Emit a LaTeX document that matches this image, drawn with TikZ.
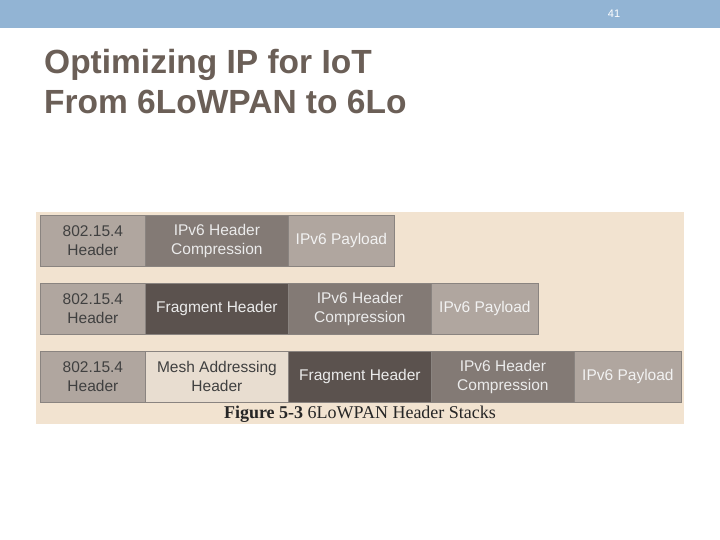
\documentclass[tikz,border=0pt]{standalone}
\usepackage{fontspec}
\setmainfont{Liberation Sans}
\newfontfamily\serifx{Liberation Serif}
\definecolor{topbar}{HTML}{92B4D4}
\definecolor{titlec}{HTML}{6B5F57}
\definecolor{bgc}{HTML}{F2E3D0}
\definecolor{lightb}{HTML}{B0A69F}
\definecolor{medb}{HTML}{837A75}
\definecolor{darkb}{HTML}{5B524E}
\definecolor{paleb}{HTML}{E8DDD0}
\definecolor{edge}{HTML}{8A8480}
\begin{document}
\begin{tikzpicture}[x=1pt,y=-1pt,
  cell/.style={draw=edge,line width=0.8pt,inner sep=0pt,align=center,font=\fontsize{15.5}{19}\selectfont},
  lt/.style={cell,fill=lightb,text=black!75},
  md/.style={cell,fill=medb,text=white!92!black},
  dk/.style={cell,fill=darkb,text=white!92!black},
  pl/.style={cell,fill=paleb,text=black!75},
  pay/.style={cell,fill=lightb,text=white!95!black}]
\useasboundingbox (0,0) rectangle (720,540);
\fill[white] (0,0) rectangle (720,540);
\fill[topbar] (0,0) rectangle (720,28);
\node[text=white,font=\fontsize{11}{12}\selectfont] (pg) at (614,14) {41};
\node[anchor=base west,text=titlec,align=left,font=\bfseries\fontsize{33.5}{40}\selectfont,inner sep=0pt] (title) at (44,114) {Optimizing IP for IoT\\From 6LoWPAN to 6Lo};
\fill[bgc] (36,212) rectangle (684,424);
% row 1
\node[lt,minimum width=105pt,minimum height=51pt,anchor=north west] (a1) at (40,215) {802.15.4\\Header};
\node[md,minimum width=143pt,minimum height=51pt,anchor=north west] (a2) at (145,215) {IPv6 Header\\Compression};
\node[pay,minimum width=106pt,minimum height=51pt,anchor=north west] (a3) at (288,215) {IPv6 Payload};
% row 2
\node[lt,minimum width=105pt,minimum height=51pt,anchor=north west] (b1) at (40,283) {802.15.4\\Header};
\node[dk,minimum width=143pt,minimum height=51pt,anchor=north west] (b2) at (145,283) {Fragment Header};
\node[md,minimum width=143pt,minimum height=51pt,anchor=north west] (b3) at (288,283) {IPv6 Header\\Compression};
\node[pay,minimum width=107pt,minimum height=51pt,anchor=north west] (b4) at (431,283) {IPv6 Payload};
% row 3
\node[lt,minimum width=105pt,minimum height=51pt,anchor=north west] (c1) at (40,351) {802.15.4\\Header};
\node[pl,minimum width=143pt,minimum height=51pt,anchor=north west] (c2) at (145,351) {Mesh Addressing\\Header};
\node[dk,minimum width=143pt,minimum height=51pt,anchor=north west] (c3) at (288,351) {Fragment Header};
\node[md,minimum width=143pt,minimum height=51pt,anchor=north west] (c4) at (431,351) {IPv6 Header\\Compression};
\node[pay,minimum width=107pt,minimum height=51pt,anchor=north west] (c5) at (574,351) {IPv6 Payload};
\node[font=\serifx\fontsize{18}{20}\selectfont,text=black!85] (cap) at (360,414) {\textbf{Figure 5-3} 6LoWPAN Header Stacks};
\end{tikzpicture}
\end{document}
